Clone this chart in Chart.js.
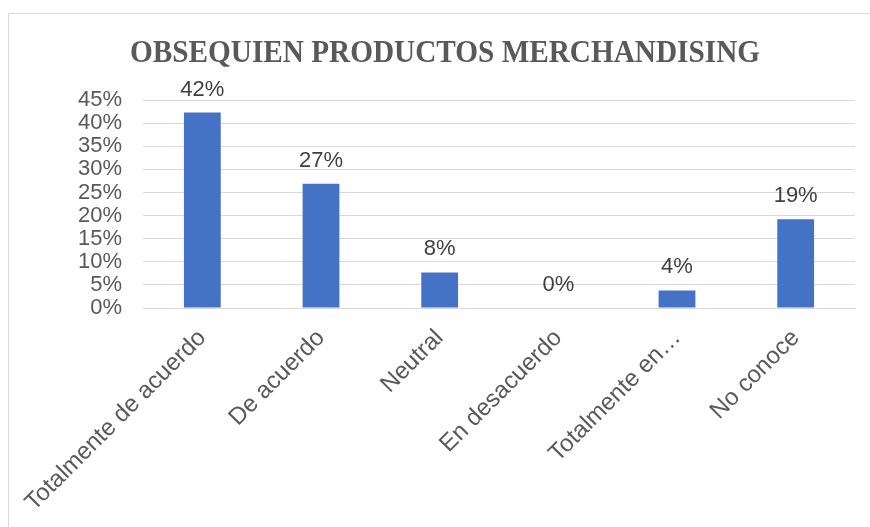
<!DOCTYPE html>
<html lang="es">
<head>
    <meta charset="UTF-8">
    <title>Obsequien productos merchandising</title>
    <script src="https://cdn.jsdelivr.net/npm/chart.js"></script>
    <style>
        body {
            margin: 0;
            background: #ffffff;
        }
        #frame {
            position: absolute;
            left: 8px;
            top: 13px;
            width: 900px;
            height: 560px;
            border: 1px solid #d9d9d9;
        }
        #wrap {
            position: absolute;
            left: 0;
            top: 0;
            width: 870px;
            height: 527px;
        }
    </style>
</head>
<body>
    <div id="frame"></div>
    <div id="wrap"><canvas id="merchChart" width="870" height="527"></canvas></div>

    <script>
        // Data
        const categories = ["Totalmente de acuerdo", "De acuerdo", "Neutral", "En desacuerdo", "Totalmente en\u2026", "No conoce"];
        const percentages = [42.3, 26.9, 7.7, 0, 3.8, 19.2];
        const chartTitle = "OBSEQUIEN PRODUCTOS MERCHANDISING";

        // Condensed serif title, drawn centred over the chart
        const titlePlugin = {
            id: "condensedTitle",
            afterDraw(chart) {
                const ctx = chart.ctx;
                ctx.save();
                ctx.font = "bold 32px 'Liberation Serif', 'Times New Roman', serif";
                ctx.fillStyle = "#595959";
                ctx.textAlign = "center";
                ctx.textBaseline = "alphabetic";
                const w = ctx.measureText(chartTitle).width;
                const sx = Math.min(1, 630 / w);
                ctx.translate(445, 62);
                ctx.scale(sx, 1);
                ctx.fillText(chartTitle, 0, 0);
                ctx.restore();
            }
        };

        // Value labels above each bar
        const valueLabels = {
            id: "valueLabels",
            afterDatasetsDraw(chart) {
                const ctx = chart.ctx;
                const meta = chart.getDatasetMeta(0);
                ctx.save();
                ctx.font = "22px 'Liberation Sans', Arial, sans-serif";
                ctx.fillStyle = "#404040";
                ctx.textAlign = "center";
                ctx.textBaseline = "bottom";
                meta.data.forEach((bar, i) => {
                    ctx.fillText(Math.round(percentages[i]) + "%", bar.x, bar.y - 12);
                });
                ctx.restore();
            }
        };

        const ctx = document.getElementById("merchChart").getContext("2d");
        new Chart(ctx, {
            type: "bar",
            data: {
                labels: categories,
                datasets: [{
                    data: percentages,
                    backgroundColor: "#4472C4",
                    categoryPercentage: 1,
                    barPercentage: 0.31
                }]
            },
            options: {
                responsive: false,
                animation: false,
                layout: {
                    padding: { top: 100, right: 15, left: 0, bottom: 0 }
                },
                plugins: {
                    legend: { display: false },
                    title: { display: false },
                    tooltip: { enabled: false }
                },
                scales: {
                    x: {
                        grid: { display: false, drawTicks: false },
                        border: { color: "#d9d9d9", width: 1 },
                        ticks: {
                            color: "#595959",
                            font: { family: "'Liberation Sans', Arial, sans-serif", size: 24 },
                            minRotation: 45,
                            maxRotation: 45,
                            autoSkip: false,
                            padding: 16
                        },
                        afterFit(scale) { scale.height = 219; }
                    },
                    y: {
                        min: 0,
                        max: 45,
                        grid: { color: "#d9d9d9", lineWidth: 1, drawTicks: false },
                        border: { display: false },
                        ticks: {
                            stepSize: 5,
                            autoSkip: false,
                            color: "#595959",
                            font: { family: "'Liberation Sans', Arial, sans-serif", size: 22, lineHeight: 1 },
                            padding: 21,
                            callback: v => v + "%"
                        },
                        afterFit(scale) { scale.width = 143; }
                    }
                }
            },
            plugins: [titlePlugin, valueLabels]
        });
    </script>
</body>
</html>
